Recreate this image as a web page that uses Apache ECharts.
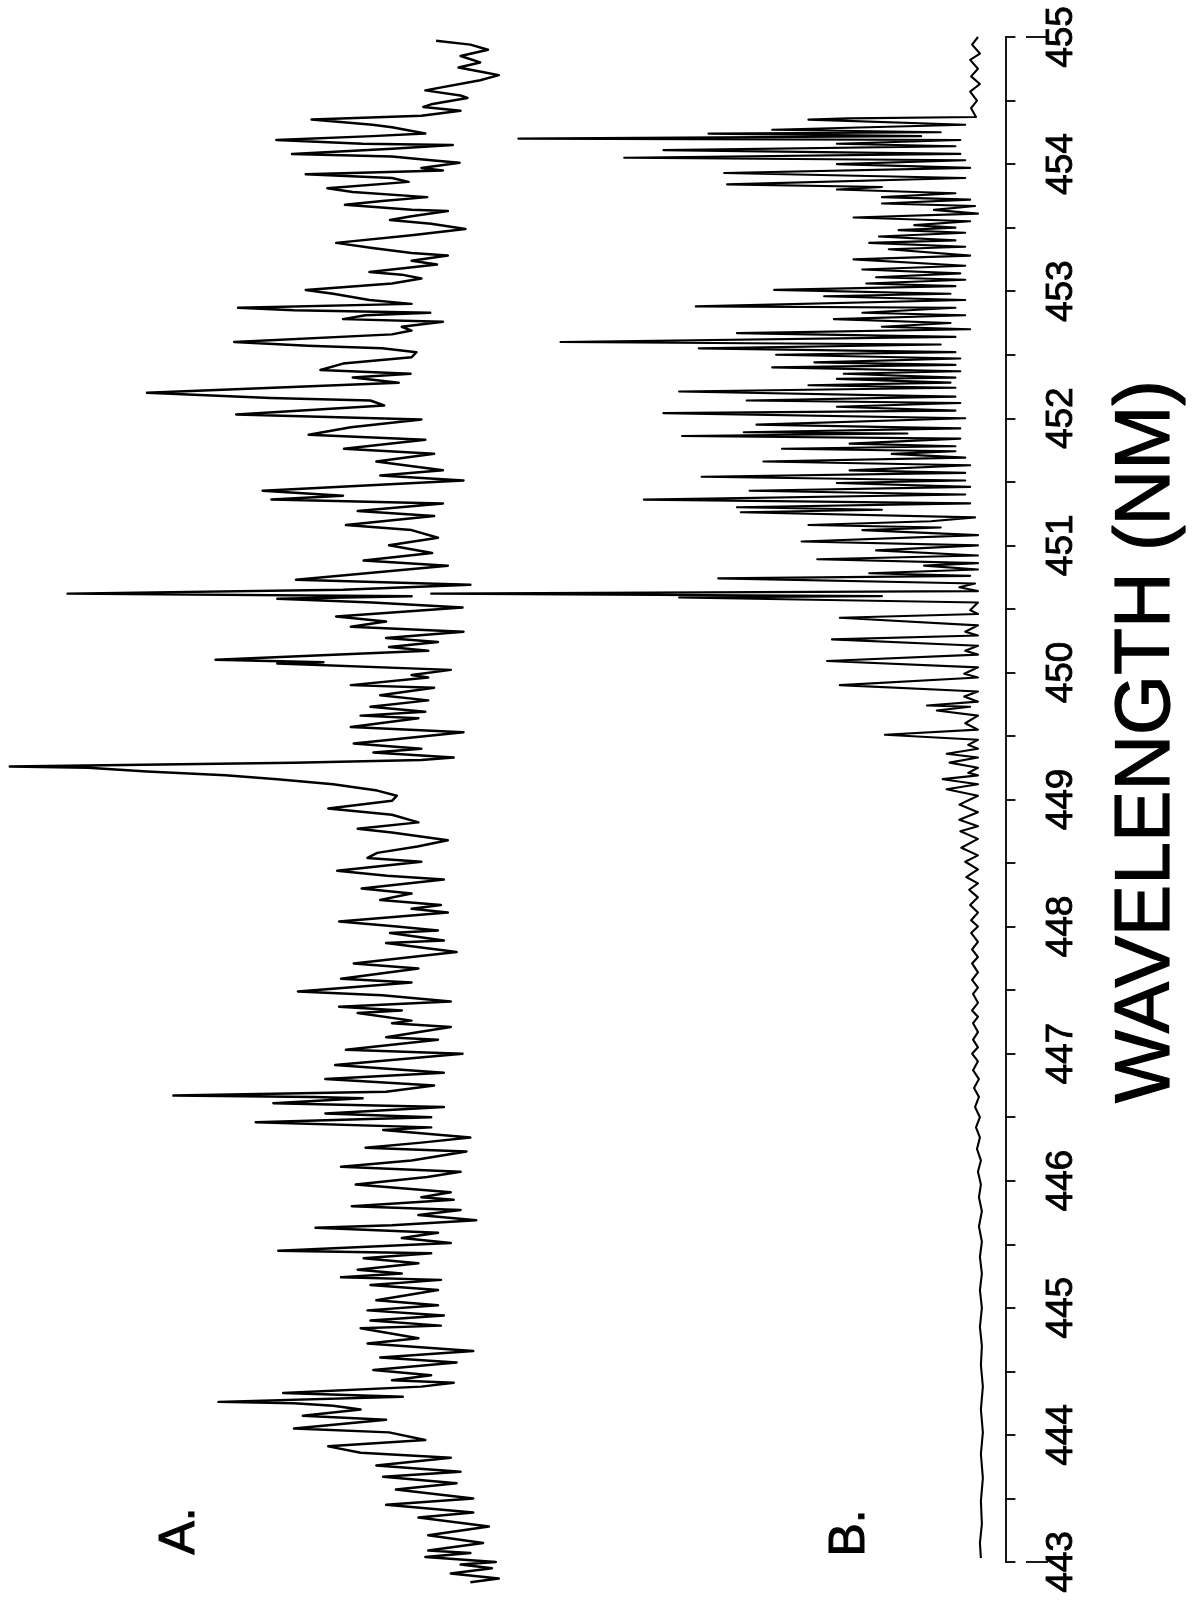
<!DOCTYPE html>
<html>
<head>
<meta charset="utf-8">
<script src="https://cdn.jsdelivr.net/npm/echarts@6/dist/echarts.min.js"></script>
<style>
html,body{margin:0;padding:0;background:#fff;}
#chart{width:1195px;height:1600px;}
</style>
</head>
<body>
<div id="chart"></div>
<script>
// Spectrum A: wavelength (nm) and intensity (arbitrary units, offset trace)
const waveA = [
454.97,454.94,454.90,454.85,454.80,454.76,454.72,454.70,454.66,454.58,454.54,454.52,454.47,454.45,454.42,454.38,
454.35,454.31,454.29,454.24,454.22,454.19,454.16,454.15,454.12,454.08,454.06,454.03,454.01,453.97,453.95,453.92,
453.89,453.86,453.81,453.78,453.74,453.71,453.68,453.64,453.63,453.59,453.56,453.53,453.49,453.44,453.38,453.34,
453.30,453.28,453.24,453.21,453.15,453.13,453.10,453.06,453.01,452.98,452.93,452.90,452.87,452.85,452.83,452.81,
452.78,452.76,452.72,452.69,452.66,452.60,452.57,452.55,452.52,452.48,452.43,452.38,452.35,452.32,452.28,452.20,
452.16,452.14,452.10,452.03,451.99,451.93,451.87,451.83,451.76,451.72,451.66,451.59,451.55,451.51,451.43,451.39,
451.36,451.33,451.27,451.23,451.16,451.12,451.06,451.00,450.94,450.88,450.84,450.73,450.69,450.65,450.62,450.60,
450.58,450.55,450.51,450.44,450.40,450.36,450.32,450.27,450.24,450.20,450.17,450.10,450.08,450.07,450.02,449.98,
449.96,449.90,449.88,449.82,449.78,449.73,449.69,449.66,449.64,449.57,449.53,449.44,449.40,449.37,449.33,449.31,
449.29,449.26,449.25,449.22,449.19,449.16,449.12,449.07,449.03,448.99,448.93,448.88,448.82,448.77,448.74,448.68,
448.63,448.58,448.54,448.51,448.44,448.40,448.37,448.30,448.26,448.21,448.17,448.14,448.11,448.04,448.00,447.97,
447.95,447.89,447.87,447.80,447.76,447.71,447.67,447.59,447.56,447.49,447.46,447.41,447.37,447.34,447.32,447.26,
447.24,447.21,447.13,447.11,447.03,447.00,446.91,446.85,446.80,446.75,446.70,446.67,446.66,446.65,446.61,446.58,
446.53,446.50,446.46,446.42,446.40,446.34,446.30,446.26,446.23,446.16,446.11,446.07,446.03,445.97,445.91,445.87,
445.85,445.80,445.77,445.73,445.69,445.65,445.63,445.59,445.55,445.51,445.45,445.43,445.39,445.35,445.30,445.27,
445.24,445.22,445.18,445.14,445.06,445.02,444.98,444.94,444.90,444.86,444.84,444.76,444.72,444.66,444.61,444.57,
444.51,444.47,444.43,444.41,444.38,444.33,444.30,444.26,444.25,444.23,444.20,444.15,444.12,444.05,444.02,443.96,
443.91,443.86,443.82,443.76,443.71,443.67,443.62,443.57,443.50,443.45,443.39,443.35,443.28,443.21,443.15,443.09,
443.07,443.04,443.00,442.98,442.95,442.91,442.87,442.84
];
const intensityA = [
581,546,528,556,536,558,531,517,536,592,556,549,586,594,556,596,
708,646,626,592,646,744,656,564,626,728,626,586,557,596,574,714,
626,609,692,666,590,636,674,606,569,606,628,586,551,606,683,646,
606,569,606,580,649,616,596,626,714,686,649,606,783,726,587,653,
676,574,616,606,626,787,712,636,601,606,676,699,607,666,619,876,
750,648,634,785,596,668,711,592,675,583,642,574,638,553,758,676,
749,574,661,583,673,606,579,629,585,655,569,724,546,676,957,606,
743,646,554,683,632,668,553,632,579,629,589,806,696,743,566,606,
589,668,583,638,589,648,592,658,599,668,553,665,596,645,563,596,
726,1016,936,876,796,743,686,641,621,626,691,626,599,661,626,569,
600,641,651,596,682,631,573,657,606,638,576,606,569,680,621,579,
628,573,632,560,606,665,599,678,606,722,636,566,680,616,661,606,
626,566,632,579,673,554,684,573,694,583,632,849,706,656,747,573,
694,586,765,586,635,546,596,653,550,606,678,556,590,663,566,596,
563,667,556,599,540,626,704,579,616,566,742,586,655,599,661,616,
678,576,648,579,642,579,651,573,648,576,658,599,651,543,638,560,
645,586,626,563,596,737,615,803,726,686,658,717,632,726,629,592,
691,658,566,642,556,635,560,622,543,632,543,599,527,589,533,589,
546,592,520,556,524,566,517,546
];

// Spectrum B: wavelength (nm) and intensity (arbitrary units)
const waveB = [
455.00,454.94,454.87,454.82,454.75,454.69,454.63,454.57,454.50,454.44,454.37,454.36,454.35,454.31,454.27,454.25,
454.24,454.22,454.20,454.19,454.16,454.14,454.11,454.08,454.05,454.03,454.00,453.97,453.93,453.89,453.84,453.82,
453.80,453.77,453.74,453.72,453.69,453.67,453.64,453.61,453.58,453.55,453.52,453.50,453.48,453.46,453.43,453.40,
453.38,453.35,453.33,453.28,453.25,453.20,453.17,453.14,453.11,453.09,453.06,453.04,453.01,452.98,452.96,452.93,
452.88,452.87,452.83,452.81,452.78,452.75,452.72,452.70,452.67,452.64,452.60,452.58,452.55,452.52,452.50,452.47,
452.44,452.42,452.40,452.37,452.35,452.32,452.31,452.28,452.26,452.24,452.21,452.17,452.14,452.12,452.09,452.06,
452.04,452.00,451.95,451.92,451.89,451.88,451.86,451.84,451.80,451.78,451.76,451.74,451.72,451.69,451.66,451.63,
451.59,451.57,451.54,451.51,451.49,451.46,451.43,451.40,451.36,451.33,451.30,451.28,451.26,451.22,451.19,451.16,
451.14,451.12,451.08,451.03,451.00,450.96,450.92,450.89,450.86,450.84,450.81,450.78,450.76,450.74,450.70,450.67,
450.64,450.62,450.60,450.59,450.55,450.49,450.46,450.43,450.37,450.32,450.29,450.26,450.21,450.17,450.14,450.09,
450.04,449.99,449.96,449.90,449.85,449.81,449.77,449.74,449.73,449.70,449.66,449.60,449.55,449.51,449.47,449.43,
449.40,449.36,449.33,449.29,449.25,449.21,449.19,449.16,449.12,449.08,449.03,448.96,448.90,448.84,448.79,448.75,
448.69,448.62,448.56,448.51,448.45,448.39,448.34,448.29,448.23,448.17,448.11,448.05,448.00,447.95,447.88,447.82,
447.76,447.71,447.64,447.58,447.52,447.47,447.40,447.34,447.29,447.24,447.17,447.11,447.05,447.00,446.94,446.87,
446.80,446.73,446.66,446.58,446.50,446.42,446.34,446.25,446.16,446.07,445.97,445.87,445.76,445.64,445.52,445.40,
445.27,445.14,445.00,444.85,444.70,444.55,444.38,444.20,444.02,443.85,443.66,443.48,443.30,443.15,443.03
];
const intensityB = [
28,34,26,36,28,35,26,36,29,35,30,160,201,41,238,66,
303,86,497,46,172,51,349,46,389,41,172,36,287,41,284,126,
172,51,126,36,126,31,73,28,155,36,93,51,109,41,129,51,
139,41,119,36,155,41,146,46,132,41,142,51,236,56,185,41,
316,51,146,41,175,56,126,36,274,51,454,66,313,51,234,46,
195,51,238,46,165,51,172,56,201,51,333,51,264,46,172,51,
349,41,254,46,267,100,330,46,159,51,228,51,116,41,247,36,
159,41,310,41,172,36,261,41,369,36,274,126,270,31,76,201,
66,146,28,208,28,132,28,192,28,83,28,139,36,293,31,47,
28,586,126,333,28,36,28,169,28,41,28,177,28,41,28,182,
28,42,28,169,28,42,28,80,36,70,28,41,28,123,28,38,
28,60,28,57,28,38,28,64,28,60,28,47,28,47,28,46,
28,45,28,41,28,40,28,37,28,36,28,35,28,35,28,34,
28,34,28,34,28,33,28,34,28,33,28,33,28,34,28,33,
27,32,27,31,26,30,26,29,25,28,25,27,24,27,24,26,
24,26,24,26,24,25,23,25,23,25,23,25,24,26,25
];

const axisMin = 443;
const axisMax = 455;
const axisStep = 1;
const axisTitle = 'WAVELENGTH (NM)';
const panelLabels = ['A.', 'B.'];

const dataA = waveA.map((w, i) => [intensityA[i], w]);
const dataB = waveB.map((w, i) => [intensityB[i], w]);

const chart = echarts.init(document.getElementById('chart'), null, {renderer: 'canvas'});
const font = '"Liberation Sans", Arial, Helvetica, sans-serif';

chart.setOption({
  backgroundColor: '#ffffff',
  animation: false,
  grid: {left: 0, right: 169, top: 37, bottom: 38},
  xAxis: {type: 'value', inverse: true, min: 0, max: 1026, show: false},
  yAxis: [
    {
      type: 'value', position: 'right', min: axisMin, max: axisMax, interval: axisStep,
      axisLine: {show: true, lineStyle: {color: '#000', width: 1.8}},
      axisTick: {show: true, inside: false, length: 10, lineStyle: {color: '#000', width: 1.8}},
      minorTick: {show: true, splitNumber: 2, length: 10, lineStyle: {color: '#000', width: 1.8}},
      splitLine: {show: false},
      axisLabel: {rotate: 90, margin: 38, fontSize: 37, color: '#000', fontFamily: font,
                  textBorderColor: '#000', textBorderWidth: 0.9},
      name: axisTitle, nameLocation: 'middle', nameRotate: 90, nameGap: 104,
      nameTextStyle: {fontSize: 77, color: '#000', fontFamily: font, padding: [0, 0, 0, 116],
                      textBorderColor: '#000', textBorderWidth: 1.2}
    },
    {
      type: 'value', position: 'left', offset: -1026, min: axisMin, max: axisMax, interval: axisMax - axisMin,
      axisLine: {show: false},
      axisTick: {show: true, inside: true, length: 22, lineStyle: {color: '#000', width: 1.8}},
      axisLabel: {show: false}, splitLine: {show: false}
    }
  ],
  graphic: [
    {type: 'text', x: 180, y: 1531, rotation: Math.PI / 2,
     style: {text: panelLabels[0], font: '50px ' + font, fill: '#000', stroke: '#000', lineWidth: 1,
             align: 'center', verticalAlign: 'middle', textAlign: 'center', textVerticalAlign: 'middle'}},
    {type: 'text', x: 850, y: 1533, rotation: Math.PI / 2,
     style: {text: panelLabels[1], font: '50px ' + font, fill: '#000', stroke: '#000', lineWidth: 1,
             align: 'center', verticalAlign: 'middle', textAlign: 'center', textVerticalAlign: 'middle'}}
  ],
  series: [
    {type: 'line', name: 'A', data: dataA, showSymbol: false, symbol: 'none', clip: false,
     lineStyle: {color: '#000', width: 2.5, join: 'round'}, yAxisIndex: 0},
    {type: 'line', name: 'B', data: dataB, showSymbol: false, symbol: 'none', clip: false,
     lineStyle: {color: '#000', width: 2.1, join: 'round'}, yAxisIndex: 0}
  ]
});
</script>
</body>
</html>
